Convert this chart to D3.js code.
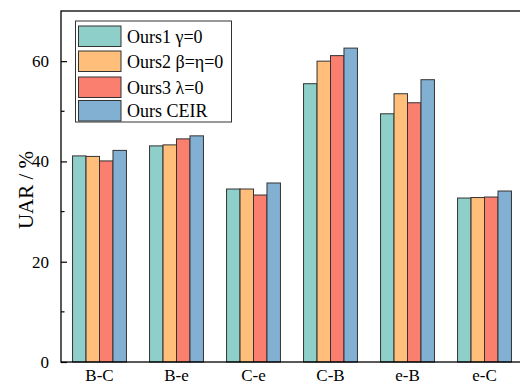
<!DOCTYPE html>
<html lang="en">
<head>
  <meta charset="UTF-8" />
  <script src="https://d3js.org/d3.v7.min.js"></script>
  <style>
    body { margin: 0; background: #fff; }
    text { font-family: "Liberation Serif", "Times New Roman", serif; fill: #000; }
  </style>
</head>
<body>
  <div id="chart"></div>

  <script>
    const categories = ["B-C", "B-e", "C-e", "C-B", "e-B", "e-C"];
    const seriesNames = ["Ours1 \u03b3=0", "Ours2 \u03b2=\u03b7=0", "Ours3 \u03bb=0", "Ours CEIR"];
    const colors = ["#8ECFC9", "#FFBE7A", "#FA7F6F", "#82B0D2"];
    const ours1 = [41.1, 43.1, 34.5, 55.5, 49.5, 32.7];
    const ours2 = [41.0, 43.3, 34.5, 60.0, 53.5, 32.8];
    const ours3 = [40.1, 44.5, 33.3, 61.1, 51.7, 32.9];
    const ceir  = [42.2, 45.1, 35.7, 62.6, 56.3, 34.1];
    const series = [ours1, ours2, ours3, ceir];
    const yTicks = [0, 20, 40, 60];
    const yMinor = [10, 30, 50];

    const W = 520, H = 384;
    const mLeft = 61, mTop = 11, mBottom = 362, mRight = 523;

    const svg = d3.select("#chart").append("svg")
      .attr("width", W).attr("height", H);

    const x = d3.scaleBand().domain(categories).range([mLeft, mRight])
      .paddingInner(0.3).paddingOuter(0.15);
    const xs = d3.scaleBand().domain(d3.range(series.length)).range([0, x.bandwidth()]);
    const y = d3.scaleLinear().domain([0, 70]).range([mBottom, mTop]);

    // bars
    series.forEach((vals, si) => {
      svg.append("g").selectAll("rect")
        .data(vals).enter().append("rect")
        .attr("x", (d, i) => x(categories[i]) + xs(si))
        .attr("y", d => y(d))
        .attr("width", xs.bandwidth())
        .attr("height", d => y(0) - y(d))
        .attr("fill", colors[si])
        .attr("stroke", "#333")
        .attr("stroke-width", 1);
    });

    // frame (right edge falls off canvas)
    svg.append("rect")
      .attr("x", mLeft).attr("y", mTop)
      .attr("width", mRight - mLeft).attr("height", mBottom - mTop)
      .attr("fill", "none").attr("stroke", "#000").attr("stroke-width", 1.3);

    // y axis
    const yAxis = svg.append("g").attr("transform", `translate(${mLeft},0)`)
      .call(d3.axisLeft(y).tickValues(yTicks).tickSize(-6).tickPadding(12));
    yAxis.select(".domain").remove();
    yAxis.selectAll("text").style("font-size", "17px")
      .style("font-family", "'Liberation Serif', serif");
    yAxis.selectAll("line").attr("stroke", "#000").attr("stroke-width", 1.2);

    svg.append("g").selectAll("line").data(yMinor).enter().append("line")
      .attr("x1", mLeft).attr("x2", mLeft + 3.5)
      .attr("y1", d => y(d)).attr("y2", d => y(d))
      .attr("stroke", "#000").attr("stroke-width", 1.2);

    // x axis
    const xAxis = svg.append("g").attr("transform", `translate(0,${mBottom})`)
      .call(d3.axisBottom(x).tickSize(0).tickPadding(7));
    xAxis.select(".domain").remove();
    xAxis.selectAll("text").style("font-size", "17px")
      .style("font-family", "'Liberation Serif', serif");

    // y title
    svg.append("text")
      .attr("transform", "translate(33,190) rotate(-90)")
      .attr("text-anchor", "middle")
      .style("font-size", "21px")
      .text("UAR / %");

    // legend
    const lg = svg.append("g");
    lg.append("rect")
      .attr("x", 75.5).attr("y", 21)
      .attr("width", 156).attr("height", 101)
      .attr("fill", "#fff").attr("stroke", "#333").attr("stroke-width", 1);
    const rowY = [26, 51, 77, 100.5];
    seriesNames.forEach((name, i) => {
      lg.append("rect")
        .attr("x", 78.5).attr("y", rowY[i])
        .attr("width", 42.5).attr("height", 20.5)
        .attr("fill", colors[i]).attr("stroke", "#333").attr("stroke-width", 1);
      lg.append("text")
        .attr("x", 127).attr("y", rowY[i] + 16.5)
        .style("font-size", "18px")
        .text(name);
    });
  </script>
</body>
</html>
